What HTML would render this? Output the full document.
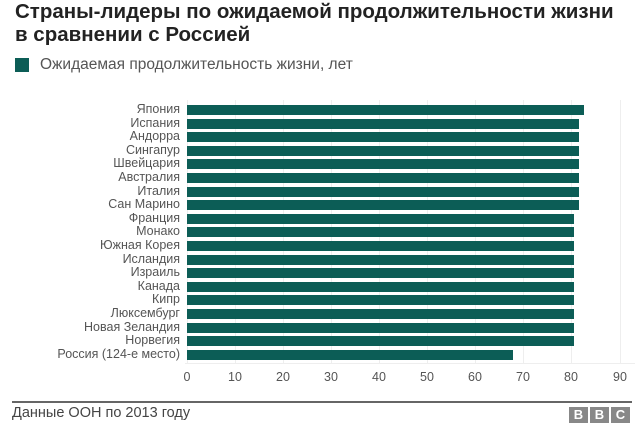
<!DOCTYPE html>
<html><head><meta charset="utf-8"><style>
body{margin:0;width:640px;height:425px;background:#fff;font-family:"Liberation Sans",Arial,sans-serif;position:relative;overflow:hidden}
.t{position:absolute;left:15px;font-weight:bold;font-size:20.5px;color:#222;white-space:nowrap}
.lab{position:absolute;right:460px;font-size:12.5px;color:#555;white-space:nowrap;line-height:13px}
.bar{position:absolute;left:187px;height:10px;background:#0c5d56}
.grid{position:absolute;top:100px;height:264px;width:1px;background:#eee}
.tk{position:absolute;top:370px;font-size:12.5px;color:#555;width:30px;text-align:center}
</style></head><body>
<div class="t" style="top:0px">Страны-лидеры по ожидаемой продолжительности жизни</div>
<div class="t" style="top:23px">в сравнении с Россией</div>
<div style="position:absolute;left:15px;top:58px;width:14px;height:14px;background:#0c5d56"></div>
<div style="position:absolute;left:40px;top:56px;font-size:15.5px;color:#555">Ожидаемая продолжительность жизни, лет</div>
<div class="grid" style="left:187px"></div><div class="grid" style="left:235px"></div><div class="grid" style="left:283px"></div><div class="grid" style="left:331px"></div><div class="grid" style="left:379px"></div><div class="grid" style="left:427px"></div><div class="grid" style="left:475px"></div><div class="grid" style="left:523px"></div><div class="grid" style="left:571px"></div><div class="grid" style="left:620px"></div>
<div style="position:absolute;left:185px;top:363px;width:450px;height:1px;background:#eee"></div>
<div id="c"></div>
<div class="tk" style="left:172px">0</div><div class="tk" style="left:220px">10</div><div class="tk" style="left:268px">20</div><div class="tk" style="left:316px">30</div><div class="tk" style="left:364px">40</div><div class="tk" style="left:412px">50</div><div class="tk" style="left:460px">60</div><div class="tk" style="left:508px">70</div><div class="tk" style="left:556px">80</div><div class="tk" style="left:605px">90</div>
<div style="position:absolute;left:12px;top:401px;width:620px;height:2px;background:#666"></div>
<div style="position:absolute;left:12px;top:405px;font-size:14.5px;color:#444">Данные ООН по 2013 году</div>
<div style="position:absolute;left:569px;top:407px;display:flex;gap:2px">
<div style="width:19px;height:16px;background:#888;color:#fff;font-weight:bold;font-size:13px;text-align:center;line-height:16px">B</div>
<div style="width:19px;height:16px;background:#888;color:#fff;font-weight:bold;font-size:13px;text-align:center;line-height:16px">B</div>
<div style="width:19px;height:16px;background:#888;color:#fff;font-weight:bold;font-size:13px;text-align:center;line-height:16px">C</div>
</div>
<script>
var d=[["Япония",397],["Испания",392],["Андорра",392],["Сингапур",392],["Швейцария",392],["Австралия",392],["Италия",392],["Сан Марино",392],["Франция",387],["Монако",387],["Южная Корея",387],["Исландия",387],["Израиль",387],["Канада",387],["Кипр",387],["Люксембург",387],["Новая Зеландия",387],["Норвегия",387],["Россия (124-е место)",326]];
var h="";d.forEach(function(r,i){var y=105+i*13.6;h+='<div class="bar" style="top:'+y+'px;width:'+r[1]+'px"></div><div class="lab" style="top:'+(y-2)+'px">'+r[0]+'</div>';});
document.getElementById("c").innerHTML=h;
</script>
</body></html>
